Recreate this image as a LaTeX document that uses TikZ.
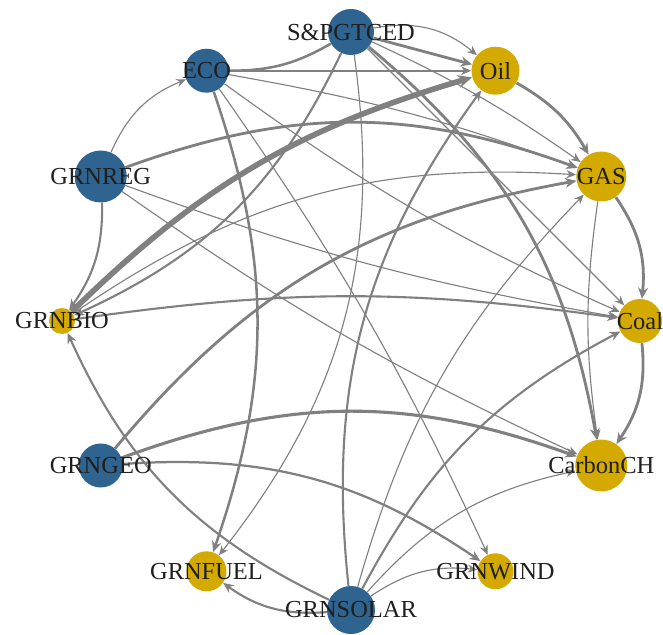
\documentclass[tikz,border=0pt]{standalone}
\usepackage{fontspec}
\setmainfont{Liberation Serif}
\usetikzlibrary{arrows.meta}
\definecolor{nodeblue}{RGB}{47,100,145}
\definecolor{nodegold}{RGB}{212,170,0}
\definecolor{linkgray}{RGB}{128,128,128}

\begin{document}
\begin{tikzpicture}[
  vert/.style={circle,inner sep=0pt,minimum size=#1},
  bluevert/.style={vert=#1,fill=nodeblue},
  goldvert/.style={vert=#1,fill=nodegold},
  tag/.style={inner sep=0pt,text=black!88,font=\fontsize{17.4}{18}\selectfont},
  link/.style={draw=linkgray,line width=#1,-{Stealth[length=6pt 1,width=5pt 1]}},
  link/.default=0.8pt]
  \useasboundingbox (-8.775,-7.825) rectangle (7.8,8.025);
  \def\rad{7.225}

  % vertices on the circle
  \node[goldvert=1.1cm]  (coal)   at (0:\rad)   {};
  \node[goldvert=1.25cm] (gas)    at (30:\rad)  {};
  \node[goldvert=1.2cm]  (oil)    at (60:\rad)  {};
  \node[bluevert=1.15cm] (spg)    at (90:\rad)  {};
  \node[bluevert=1.1cm]  (eco)    at (120:\rad) {};
  \node[bluevert=1.3cm]  (reg)    at (150:\rad) {};
  \node[goldvert=0.65cm] (bio)    at (180:\rad) {};
  \node[bluevert=1.1cm]  (geo)    at (210:\rad) {};
  \node[goldvert=1.0cm]  (fuel)   at (240:\rad) {};
  \node[bluevert=1.2cm]  (solar)  at (270:\rad) {};
  \node[goldvert=0.9cm]  (wind)   at (300:\rad) {};
  \node[goldvert=1.3cm]  (carbon) at (330:\rad) {};

  % links
  \draw[link=2pt] (spg) -- (oil);
  \draw[link] (spg) to[bend left=25] (oil);
  \draw[link=1.8pt,-] (spg) to[bend left=15] (eco);
  \draw[link=1.2pt] (eco) -- (oil);
  \draw[link] (eco) to[bend left=5] (gas);
  \draw[link] (eco) to[bend right=6] (coal);
  \draw[link] (eco) to[bend left=5] (wind);
  \draw[link=1.8pt] (eco) to[bend left=19] (fuel);
  \draw[link] (reg) to[bend left=22] (eco);
  \draw[link=1.5pt] (reg) to[bend left=18] (bio);
  \draw[link=2pt] (reg) to[bend left=20] (gas);
  \draw[link] (reg) to[bend right=5] (coal);
  \draw[link] (reg) to[bend right=5] (carbon);
  \draw[link=4pt] (bio) to[bend left=14] (oil);
  \draw[link=1.5pt] (spg) to[bend left=20] (bio);
  \draw[link] (bio) to[bend left=19] (gas);
  \draw[link=1.5pt] (bio) to[bend left=8] (coal);
  \draw[link=1.5pt] (solar) to[bend left=20] (bio);
  \draw[link=1.5pt] (solar) to[bend left=20] (fuel);
  \draw[link=1.5pt] (solar) to[bend left=21] (oil);
  \draw[link] (solar) to[bend left=14] (gas);
  \draw[link=1.5pt] (solar) to[bend left=17] (coal);
  \draw[link] (solar) to[bend left=18] (carbon);
  \draw[link] (solar) to[bend left=20] (wind);
  \draw[link=2pt] (geo) to[bend left=20] (gas);
  \draw[link=2.2pt] (geo) to[bend left=20] (carbon);
  \draw[link=1.6pt] (geo) to[bend left=19] (wind);
  \draw[link] (spg) to[bend left=23] (fuel);
  \draw[link] (spg) to[bend left=5] (gas);
  \draw[link] (spg) -- (coal);
  \draw[link=2pt] (spg) to[bend left=20] (carbon);
  \draw[link=2pt] (oil) to[bend left=15] (gas);
  \draw[link=2pt] (gas) to[bend left=20] (coal);
  \draw[link] (gas) to[bend right=8] (carbon);
  \draw[link=2pt] (coal) to[bend left=20] (carbon);

  % labels on top
  \node[tag] (coal-l)   at (coal)   {Coal};
  \node[tag] (gas-l)    at (gas)    {GAS};
  \node[tag] (oil-l)    at (oil)    {Oil};
  \node[tag] (spg-l)    at (spg)    {S\&PGTCED};
  \node[tag] (eco-l)    at (eco)    {ECO};
  \node[tag] (reg-l)    at (reg)    {GRNREG};
  \node[tag] (bio-l)    at (bio)    {GRNBIO};
  \node[tag] (geo-l)    at (geo)    {GRNGEO};
  \node[tag] (fuel-l)   at (fuel)   {GRNFUEL};
  \node[tag] (solar-l)  at (solar)  {GRNSOLAR};
  \node[tag] (wind-l)   at (wind)   {GRNWIND};
  \node[tag] (carbon-l) at (carbon) {CarbonCH};
\end{tikzpicture}
\end{document}
